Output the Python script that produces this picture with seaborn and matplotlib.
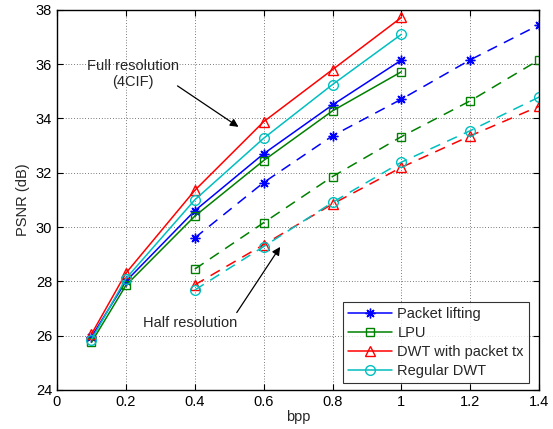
import matplotlib
matplotlib.use("Agg")
import matplotlib.pyplot as plt
import pandas as pd
import seaborn as sns

# Full resolution (4CIF), solid lines
bpp_full = [0.1, 0.2, 0.4, 0.6, 0.8, 1.0]
full_packet_lifting = [25.95, 28.0, 30.6, 32.7, 34.5, 36.15]
full_lpu = [25.75, 27.85, 30.4, 32.45, 34.28, 35.72]
full_dwt_packet_tx = [26.05, 28.3, 31.35, 33.88, 35.8, 37.72]
full_regular_dwt = [25.85, 28.1, 31.0, 33.27, 35.25, 37.1]

# Half resolution, dashed lines
bpp_half = [0.4, 0.6, 0.8, 1.0, 1.2, 1.4]
half_packet_lifting = [29.6, 31.64, 33.36, 34.71, 36.16, 37.45]
half_lpu = [28.45, 30.16, 31.86, 33.33, 34.65, 36.16]
half_dwt_packet_tx = [27.87, 29.35, 30.85, 32.2, 33.36, 34.45]
half_regular_dwt = [27.68, 29.28, 30.91, 32.39, 33.55, 34.79]

methods = ["Packet lifting", "LPU", "DWT with packet tx", "Regular DWT"]
colors = ["#0000ff", "#008000", "#ff0000", "#00bfbf"]
markers = [(8, 2, 0), "s", "^", "o"]
marker_sizes = [7, 6, 7.5, 7]
full_series = [full_packet_lifting, full_lpu, full_dwt_packet_tx, full_regular_dwt]
half_series = [half_packet_lifting, half_lpu, half_dwt_packet_tx, half_regular_dwt]

sns.set_theme(style="ticks")
plt.rcParams["font.family"] = ["Liberation Sans", "DejaVu Sans"]

fig = plt.figure(figsize=(5.53, 4.29), dpi=100)
ax = fig.add_axes([0.103, 0.091, 0.872, 0.886])

for name, color, marker, size, full, half in zip(methods, colors, markers, marker_sizes,
                                                  full_series, half_series):
    df_full = pd.DataFrame({"bpp": bpp_full, "psnr": full})
    df_half = pd.DataFrame({"bpp": bpp_half, "psnr": half})
    sns.lineplot(data=df_full, x="bpp", y="psnr", ax=ax, color=color, lw=1.1,
                 marker=marker, markersize=size, markerfacecolor="none",
                 markeredgecolor=color, markeredgewidth=1.0, label=name)
    sns.lineplot(data=df_half, x="bpp", y="psnr", ax=ax, color=color, lw=1.1,
                 marker=marker, markersize=size, markerfacecolor="none",
                 markeredgecolor=color, markeredgewidth=1.0,
                 label="_nolegend_")
    ax.lines[-1].set_linestyle((0, (7, 5)))

ax.set_xlim(0, 1.4)
ax.set_ylim(24, 38)
ax.set_xticks([0, 0.2, 0.4, 0.6, 0.8, 1.0, 1.2, 1.4])
ax.set_xticklabels(["0", "0.2", "0.4", "0.6", "0.8", "1", "1.2", "1.4"])
ax.set_yticks(range(24, 39, 2))
ax.grid(True, color="black", linestyle=(0, (1, 3)), linewidth=0.5)
ax.tick_params(direction="in", top=True, right=True, labelsize=10.5, length=4,
               width=0.8, colors="black")
for s in ax.spines.values():
    s.set_color("black")
    s.set_linewidth(1.0)
ax.set_xlabel("bpp", fontsize=10.5, labelpad=1)
ax.set_ylabel("PSNR (dB)", fontsize=10.5, labelpad=4)

ax.text(0.22, 35.65, "Full resolution\n(4CIF)", ha="center", va="center", fontsize=10.5)
ax.annotate("", xy=(0.527, 33.69), xytext=(0.35, 35.2),
            arrowprops=dict(arrowstyle="-|>", color="black", lw=0.9,
                            mutation_scale=12, shrinkA=0, shrinkB=0))
ax.text(0.387, 26.45, "Half resolution", ha="center", va="center", fontsize=10.5)
ax.annotate("", xy=(0.648, 29.27), xytext=(0.522, 26.85),
            arrowprops=dict(arrowstyle="-|>", color="black", lw=0.9,
                            mutation_scale=12, shrinkA=0, shrinkB=0))

leg = ax.legend(loc="lower right", fontsize=10.5, frameon=True, fancybox=False,
                edgecolor="black", borderpad=0.35, labelspacing=0.33,
                handlelength=3.0, handletextpad=0.4, borderaxespad=0,
                bbox_to_anchor=(0.979, 0.019))
leg.get_frame().set_linewidth(0.8)

fig.savefig("out.png", dpi=100)
